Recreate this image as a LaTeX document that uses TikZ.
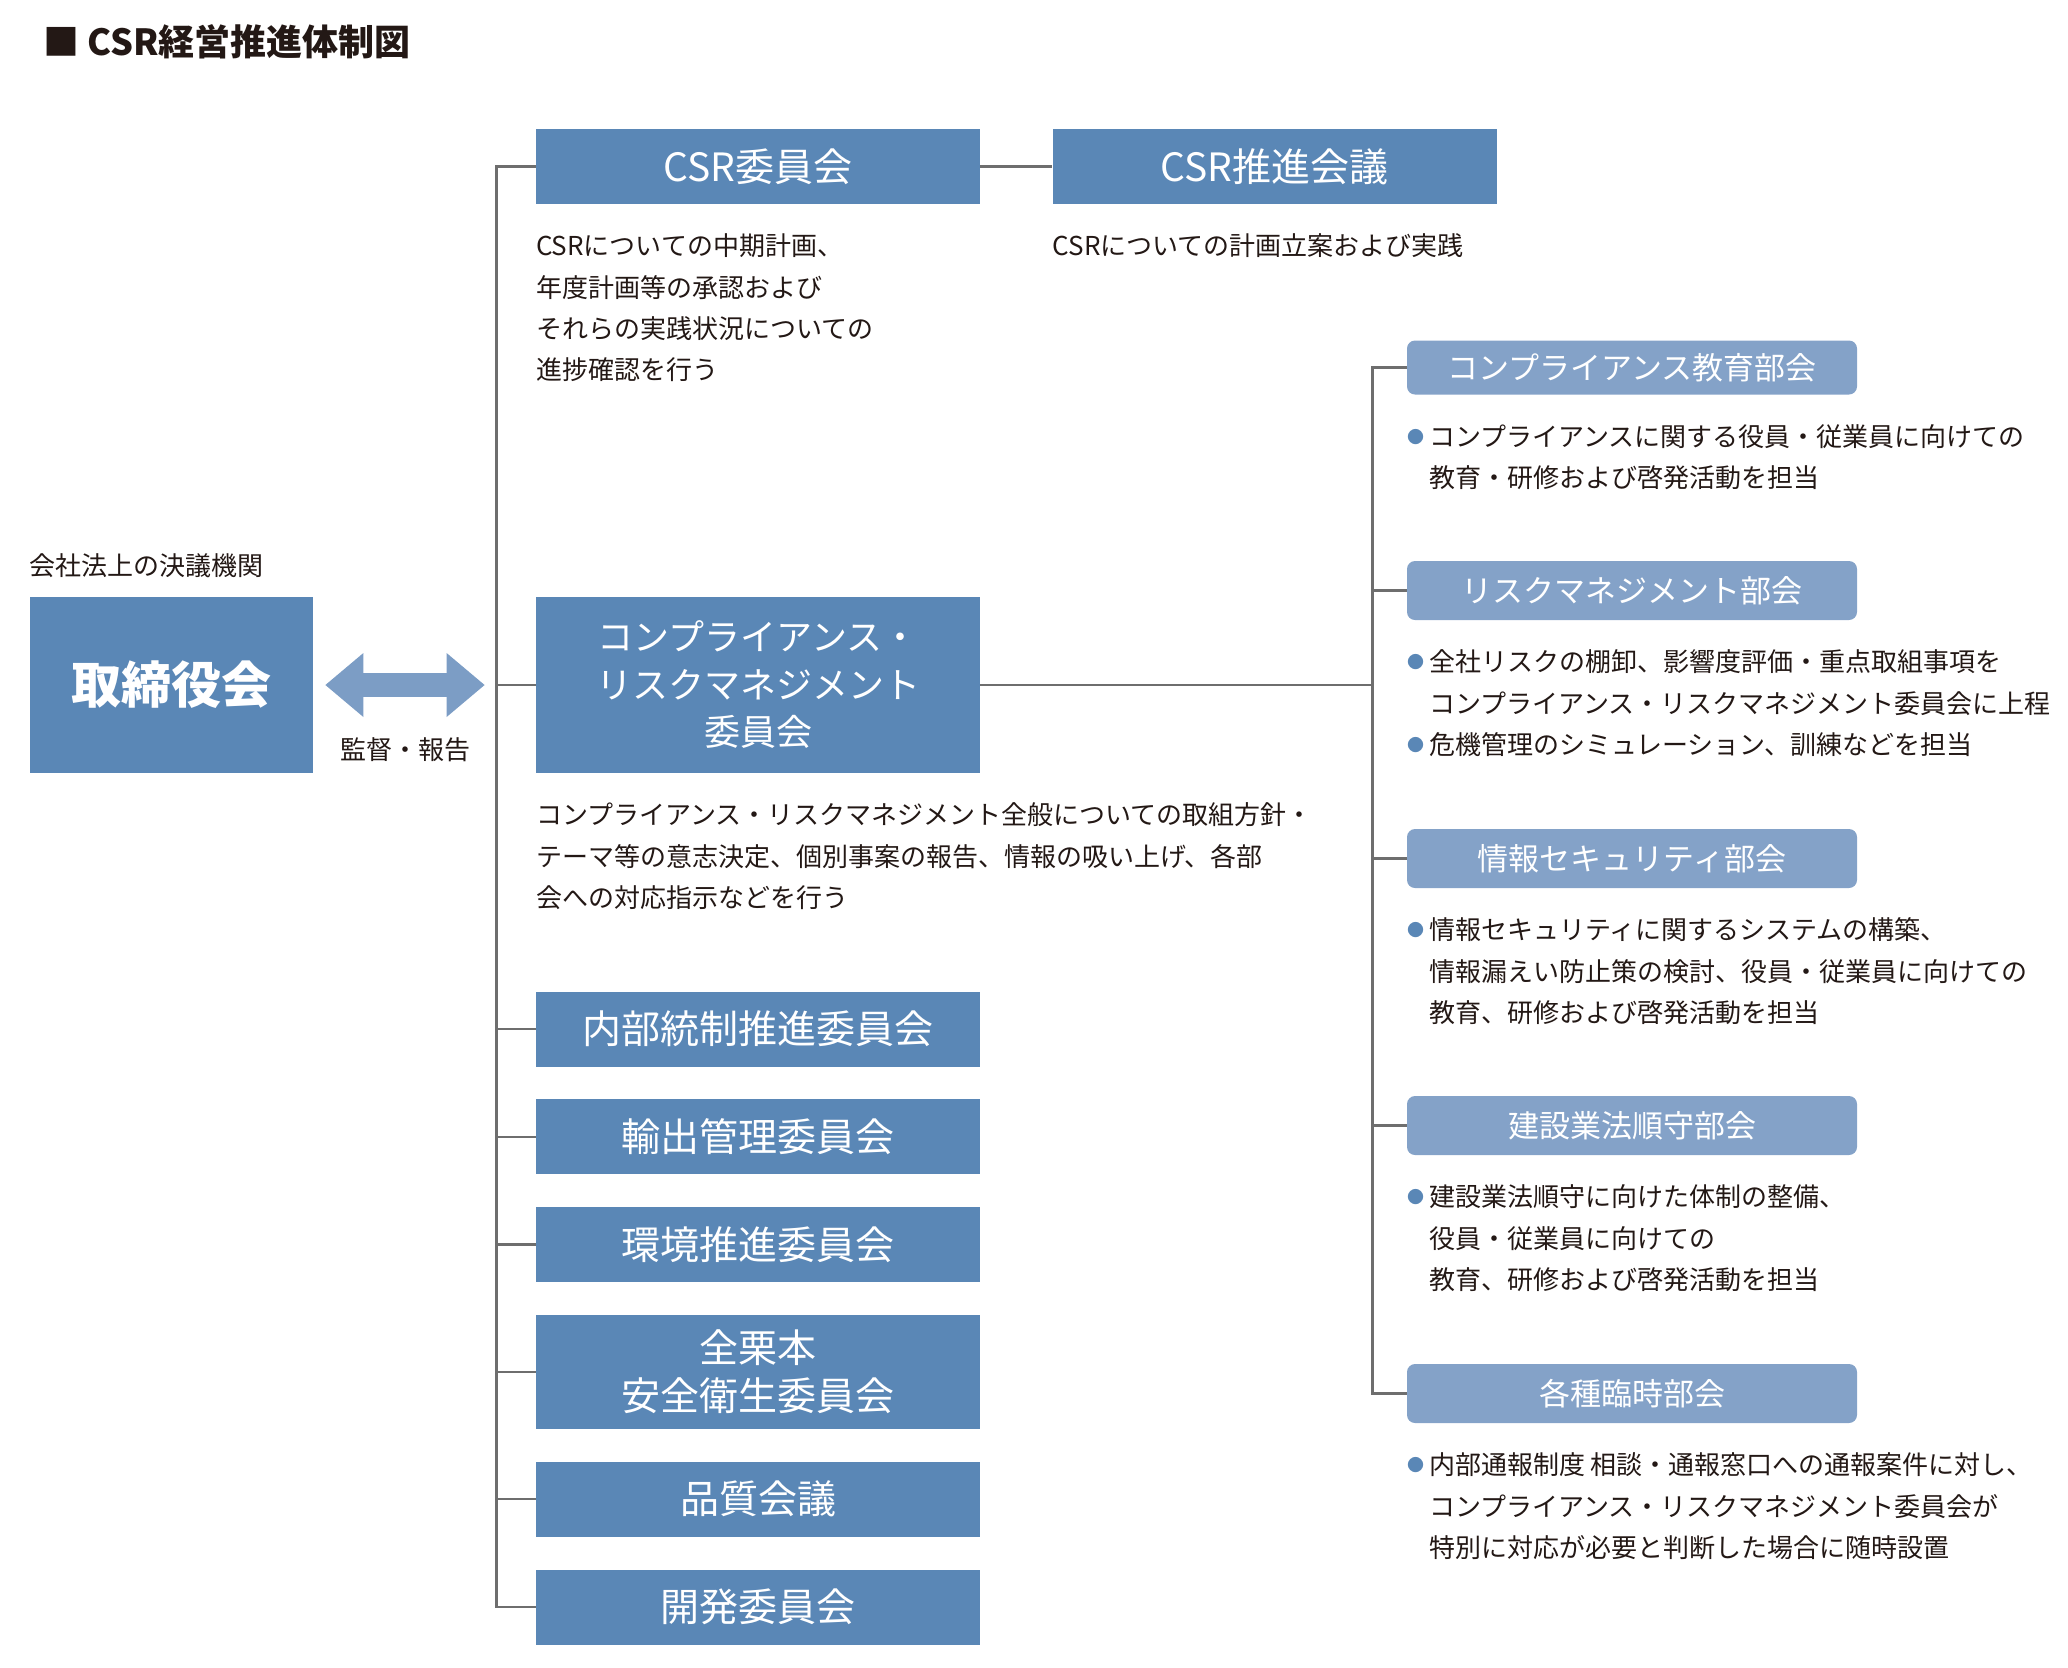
\documentclass[tikz,border=0pt]{standalone}
\usepackage{fontspec}
\setmainfont{Noto Sans CJK JP}
\usetikzlibrary{arrows.meta, positioning}

\definecolor{boxblue}{RGB}{90,135,182}
\definecolor{subblue}{RGB}{132,162,200}
\definecolor{arrowblue}{RGB}{124,157,197}
\definecolor{linegray}{RGB}{110,110,110}
\definecolor{textdark}{RGB}{35,24,21}

\newcommand{\bul}{\llap{\textcolor{boxblue}{\fontsize{8.5}{8.5}\selectfont\raisebox{1.5pt}{●}}\hspace{2.5pt}}}

\begin{document}
\begin{tikzpicture}[
  x=0.5pt, y=-0.5pt,
  box/.style={fill=boxblue, text=white, minimum width=222pt, minimum height=37.5pt, inner sep=0pt, align=center, font=\fontsize{19.5}{24}\selectfont},
  subbox/.style={fill=subblue, text=white, rounded corners=4pt, minimum width=225pt, minimum height=29.5pt, inner sep=0pt, font=\fontsize{15.5}{18}\selectfont},
  desc/.style={align=left, inner sep=0pt, text=textdark, font=\fontsize{13}{20.7}\selectfont},
  link/.style={draw=linegray, line width=1.2pt},
  biarrow/.style={arrowblue, line width=12pt, {Triangle[width=32pt, length=19pt, line width=0pt]}-{Triangle[width=32pt, length=19pt, line width=0pt]}},
  node distance=16pt
]
\useasboundingbox (0,0) rectangle (2068,1667);

% Title
\node[anchor=west, text=textdark, font=\fontsize{18}{18}\selectfont\bfseries] (title) at (36,42) {■ CSR経営推進体制図};

% Board of directors
\node[box, minimum width=141.5pt, minimum height=88pt, font=\fontsize{25}{25}\selectfont\bfseries] (tori) at (171.5,685) {取締役会};
\node[desc, above right=9pt and 0pt of tori.north west] (kaisha) {会社法上の決議機関};

% CSR committees
\node[box] (csr) at (758,166.5) {CSR委員会};
\node[box, right=36pt of csr] (suishin) {CSR推進会議};
\node[desc, below right=14.5pt and 0pt of csr.south west] (csrnote) {CSRについての中期計画、\\年度計画等の承認および\\それらの実践状況についての\\進捗確認を行う};
\node[desc, below right=14.5pt and 0pt of suishin.south west] (suishinnote) {CSRについての計画立案および実践};

% Compliance & risk management committee
\node[box, minimum height=88pt, font=\fontsize{18}{23.75}\selectfont] (comp) at (758,685) {コンプライアンス・\\リスクマネジメント\\委員会};
\node[desc, below right=14.5pt and 0pt of comp.south west] (compnote) {コンプライアンス・リスクマネジメント全般についての取組方針・\\テーマ等の意志決定、個別事案の報告、情報の吸い上げ、各部\\会への対応指示などを行う};

% Other committees
\node[box] (naibu) at (758,1029) {内部統制推進委員会};
\node[box, below=of naibu] (yushutsu) {輸出管理委員会};
\node[box, below=of yushutsu] (kankyo) {環境推進委員会};
\node[box, below=of kankyo, minimum height=57pt] (anzen) {全栗本\\安全衛生委員会};
\node[box, below=of anzen] (hinshitsu) {品質会議};
\node[box, below=of hinshitsu] (kaihatsu) {開発委員会};

% Sub-committees
\node[subbox, minimum height=27pt] (kyoiku) at (1632,367.5) {コンプライアンス教育部会};
\node[subbox] (risk) at (1632,590.5) {リスクマネジメント部会};
\node[subbox] (joho) at (1632,858.5) {情報セキュリティ部会};
\node[subbox] (kensetsu) at (1632,1125.5) {建設業法順守部会};
\node[subbox] (rinji) at (1632,1393.5) {各種臨時部会};

\node[desc, below right=14.5pt and 11pt of kyoiku.south west] (kyoikunote) {\bul コンプライアンスに関する役員・従業員に向けての\\教育・研修および啓発活動を担当};
\node[desc, below right=14.5pt and 11pt of risk.south west] (risknote) {\bul 全社リスクの棚卸、影響度評価・重点取組事項を\\コンプライアンス・リスクマネジメント委員会に上程\\\bul 危機管理のシミュレーション、訓練などを担当};
\node[desc, below right=14.5pt and 11pt of joho.south west] (johonote) {\bul 情報セキュリティに関するシステムの構築、\\情報漏えい防止策の検討、役員・従業員に向けての\\教育、研修および啓発活動を担当};
\node[desc, below right=14.5pt and 11pt of kensetsu.south west] (kensetsunote) {\bul 建設業法順守に向けた体制の整備、\\役員・従業員に向けての\\教育、研修および啓発活動を担当};
\node[desc, below right=14.5pt and 11pt of rinji.south west] (rinjinote) {\bul 内部通報制度 相談・通報窓口への通報案件に対し、\\コンプライアンス・リスクマネジメント委員会が\\特別に対応が必要と判断した場合に随時設置};

% Connectors
\draw[link] (csr) -- (suishin);
\draw[link] (csr.west) -- ++(-39,0) |- (kaihatsu.west);
\foreach \n in {comp, naibu, yushutsu, kankyo, anzen, hinshitsu}
  \draw[link] (\n.west) -- ++(-39,0);

\draw[link] (kyoiku.west) -- ++(-34,0) |- (rinji.west);
\foreach \n in {risk, joho, kensetsu}
  \draw[link] (\n.west) -- ++(-34,0);
\draw[link] (comp.east) -- ([xshift=-17pt]comp.east -| kyoiku.west);

% Supervision arrow
\draw[biarrow] ([xshift=6pt]tori.east) -- ([xshift=-25.5pt]comp.west)
  node[midway, below=20.5pt, desc] (kantoku) {監督・報告};

\end{tikzpicture}
\end{document}
